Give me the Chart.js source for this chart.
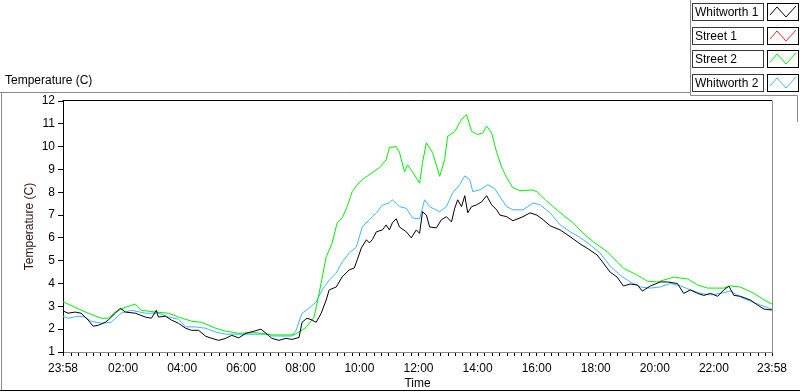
<!DOCTYPE html>
<html>
<head>
<meta charset="utf-8">
<script src="https://cdn.jsdelivr.net/npm/chart.js@4"></script>
<style>
  html, body { margin: 0; padding: 0; background: #fff; }
  #wrap { width: 800px; height: 392px; position: relative; }
</style>
</head>
<body>
<div id="wrap"><canvas id="temps"></canvas></div>
<script>
// hours since 23:58 and temperatures (C) per series
let wh1Hours = [0, 0.17, 0.41, 0.61, 0.85, 1.02, 1.19, 1.43, 1.53, 1.77, 1.94, 2.11, 2.45, 2.79, 2.99, 3.16, 3.23, 3.47, 3.67, 3.91, 4.15, 4.35, 4.59, 4.83, 5.03, 5.27, 5.51, 5.71, 5.95, 6.19, 6.46, 6.7, 6.87, 7.07, 7.31, 7.55, 7.75, 7.99, 8.09, 8.26, 8.43, 8.57, 8.74, 8.91, 9.01, 9.25, 9.45, 9.69, 9.86, 9.96, 10.1, 10.27, 10.37, 10.47, 10.61, 10.81, 10.94, 11.05, 11.15, 11.28, 11.39, 11.62, 11.79, 11.96, 12.07, 12.17, 12.3, 12.41, 12.64, 12.81, 12.98, 13.15, 13.26, 13.36, 13.49, 13.6, 13.7, 13.83, 14.0, 14.17, 14.34, 14.51, 14.68, 14.79, 15.02, 15.23, 15.57, 15.81, 16.04, 16.25, 16.49, 16.83, 17.17, 17.5, 17.74, 18.08, 18.29, 18.52, 18.76, 18.97, 19.2, 19.44, 19.61, 19.88, 20.22, 20.46, 20.8, 21.01, 21.24, 21.48, 21.69, 21.92, 22.16, 22.37, 22.54, 22.71, 22.94, 23.28, 23.52, 23.73, 24.0];
let wh1Temps = [2.8, 2.7, 2.75, 2.7, 2.4, 2.13, 2.17, 2.3, 2.4, 2.7, 2.92, 2.75, 2.7, 2.53, 2.48, 2.83, 2.53, 2.57, 2.4, 2.26, 2.04, 1.95, 1.95, 1.69, 1.6, 1.51, 1.6, 1.73, 1.62, 1.82, 1.91, 2.0, 1.82, 1.6, 1.51, 1.6, 1.55, 1.64, 2.3, 2.48, 2.4, 2.3, 2.7, 3.28, 3.72, 3.85, 4.29, 4.6, 4.68, 5.04, 5.56, 5.92, 5.78, 5.92, 6.27, 6.35, 6.57, 6.35, 6.66, 6.84, 6.48, 6.27, 6.0, 6.35, 6.2, 7.15, 7.0, 6.48, 6.44, 6.8, 6.93, 6.7, 7.3, 7.67, 7.37, 7.85, 7.1, 7.37, 7.45, 7.58, 7.85, 7.45, 7.23, 7.0, 6.93, 6.75, 6.93, 7.1, 7.0, 6.8, 6.53, 6.35, 6.05, 5.74, 5.55, 5.25, 4.9, 4.5, 4.28, 3.89, 3.98, 3.94, 3.67, 3.89, 4.07, 4.07, 4.0, 3.57, 3.72, 3.57, 3.48, 3.57, 3.44, 3.72, 3.89, 3.48, 3.44, 3.27, 3.05, 2.88, 2.84];

let st1Hours = [];
let st1Temps = [];

let st2Hours = [0, 0.85, 1.29, 1.53, 1.77, 2.11, 2.45, 2.65, 3.13, 3.57, 3.91, 4.35, 4.69, 5.17, 5.51, 5.95, 6.5, 7.07, 7.82, 7.89, 8.23, 8.5, 8.67, 8.91, 9.11, 9.28, 9.45, 9.62, 9.79, 9.96, 10.13, 10.47, 10.71, 10.94, 11.05, 11.28, 11.39, 11.56, 11.66, 11.83, 12.07, 12.17, 12.3, 12.51, 12.75, 12.92, 13.02, 13.26, 13.49, 13.66, 13.83, 14.04, 14.21, 14.34, 14.51, 14.68, 14.85, 15.02, 15.23, 15.47, 15.87, 16.04, 16.25, 16.59, 16.93, 17.27, 17.61, 17.95, 18.42, 18.76, 18.97, 19.44, 19.78, 20.12, 20.46, 20.67, 21.14, 21.48, 21.82, 22.37, 22.6, 22.94, 23.39, 23.73, 24.0];
let st2Temps = [3.2, 2.7, 2.48, 2.48, 2.75, 2.96, 3.1, 2.83, 2.75, 2.7, 2.53, 2.35, 2.3, 2.04, 1.91, 1.82, 1.85, 1.75, 1.75, 1.8, 2.08, 2.53, 3.58, 5.17, 5.78, 6.66, 6.88, 7.37, 8.03, 8.33, 8.56, 8.86, 9.08, 9.43, 9.96, 10.0, 9.74, 8.9, 9.2, 8.9, 8.4, 9.3, 10.17, 9.74, 8.7, 9.44, 10.45, 10.66, 11.2, 11.4, 10.67, 10.53, 10.6, 10.9, 10.6, 9.74, 9.1, 8.64, 8.2, 8.07, 8.1, 8.03, 7.76, 7.37, 7.0, 6.66, 6.2, 5.83, 5.4, 4.95, 4.67, 4.37, 4.1, 4.07, 4.2, 4.28, 4.2, 3.94, 3.8, 3.8, 3.9, 3.84, 3.57, 3.28, 3.1];

let wh2Hours = [0, 0.17, 0.51, 0.75, 0.95, 1.29, 1.63, 1.97, 2.31, 2.79, 3.23, 3.57, 3.91, 4.15, 4.49, 4.83, 5.17, 5.51, 5.95, 6.97, 7.07, 7.75, 7.89, 8.09, 8.33, 8.57, 8.77, 9.01, 9.25, 9.45, 9.69, 9.93, 10.13, 10.37, 10.61, 10.81, 11.05, 11.15, 11.39, 11.62, 11.83, 12.07, 12.24, 12.41, 12.75, 12.98, 13.19, 13.43, 13.6, 13.77, 13.87, 14.11, 14.38, 14.62, 14.79, 15.02, 15.23, 15.57, 15.91, 16.15, 16.49, 16.83, 17.17, 17.5, 17.84, 18.18, 18.52, 18.86, 19.2, 19.54, 19.88, 20.22, 20.56, 20.9, 21.24, 21.58, 21.92, 22.27, 22.6, 22.94, 23.28, 23.62, 24.0];
let wh2Temps = [2.57, 2.48, 2.57, 2.53, 2.35, 2.26, 2.3, 2.7, 2.83, 2.7, 2.7, 2.53, 2.44, 2.1, 2.1, 2.04, 1.87, 1.78, 1.78, 1.78, 1.7, 1.7, 1.95, 2.7, 2.92, 3.19, 3.72, 4.15, 4.46, 4.95, 5.34, 5.6, 6.48, 6.8, 7.1, 7.44, 7.53, 7.67, 7.37, 7.3, 6.88, 6.83, 7.67, 7.37, 7.15, 7.37, 7.98, 8.33, 8.72, 8.55, 8.03, 8.1, 8.33, 8.15, 7.8, 7.37, 7.23, 7.23, 7.53, 7.45, 7.1, 6.57, 6.27, 6.02, 5.7, 5.34, 4.77, 4.37, 4.07, 3.85, 3.8, 3.85, 4.0, 3.9, 3.72, 3.57, 3.5, 3.57, 3.67, 3.4, 3.22, 3.05, 2.88];

let yTicks = [1, 2, 3, 4, 5, 6, 7, 8, 9, 10, 11, 12];
let seriesNames = ["Whitworth 1", "Street 1", "Street 2", "Whitworth 2"];
let seriesColors = ["#000000", "#ff2020", "#00ee00", "#3cb4ff"];

function pairs(hs, vs) {
  return hs.map((h, i) => ({ x: h, y: vs[i] }));
}

const START_MIN = 23 * 60 + 58;
function clockLabel(h) {
  let m = Math.round(h * 60 + START_MIN) % 1440;
  let hh = String(Math.floor(m / 60)).padStart(2, "0");
  let mm = String(m % 60).padStart(2, "0");
  return hh + ":" + mm;
}

const FONT = "'Liberation Sans', Arial, sans-serif";
Chart.defaults.font.family = FONT;
Chart.defaults.font.size = 12;
Chart.defaults.color = "#000";

// frame, caption and legend boxes in the LabVIEW style
const decor = {
  id: "decor",
  afterDraw(chart) {
    const c = chart.ctx;
    const a = chart.chartArea;
    c.save();
    c.lineWidth = 1;
    // outer panel
    c.strokeStyle = "#8a8a8a";
    c.beginPath();
    c.moveTo(0, 92.5); c.lineTo(690.5, 92.5);
    c.moveTo(690.5, 0); c.lineTo(690.5, 95.5);
    c.moveTo(690.5, 95.5); c.lineTo(797.5, 95.5);
    c.moveTo(797.5, 95.5); c.lineTo(797.5, 122);
    c.moveTo(1.5, 92.5); c.lineTo(1.5, 390);
    c.stroke();
    c.strokeStyle = "#000";
    c.beginPath();
    c.moveTo(0, 390.5); c.lineTo(800, 390.5);
    c.stroke();
    // plot area top (black) and right (gray)
    c.beginPath();
    c.strokeStyle = "#000";
    c.moveTo(a.left - 0.5, Math.round(a.top) - 0.5);
    c.lineTo(Math.round(a.right), Math.round(a.top) - 0.5);
    c.stroke();
    c.beginPath();
    c.strokeStyle = "#8a8a8a";
    c.moveTo(Math.round(a.right) + 0.5, Math.round(a.top) - 0.5);
    c.lineTo(Math.round(a.right) + 0.5, a.bottom + 1);
    c.stroke();
    // caption
    c.fillStyle = "#000";
    c.font = "12px " + FONT;
    c.textBaseline = "middle";
    c.textAlign = "left";
    c.fillText("Temperature (C)", 5, 81);
    // legend
    const rowTop = [3, 27, 50, 74];
    seriesNames.forEach((name, i) => {
      const t = rowTop[i];
      c.fillStyle = "#fff";
      c.fillRect(692, t, 71, 17);
      c.strokeStyle = "#3a3a3a";
      c.strokeRect(692.5, t + 0.5, 71, 17);
      c.fillStyle = "#000";
      c.fillText(name, 695, t + 9.5);
      c.strokeStyle = "#000";
      c.strokeRect(767.5, t + 0.5, 31, 17);
      c.strokeStyle = seriesColors[i];
      c.beginPath();
      c.moveTo(770, t + 12);
      c.lineTo(777, t + 4);
      c.lineTo(786, t + 14);
      c.lineTo(796, t + 3);
      c.stroke();
    });
    c.restore();
  }
};

new Chart(document.getElementById("temps"), {
  type: "line",
  data: {
    datasets: [
      { label: seriesNames[0], data: pairs(wh1Hours, wh1Temps), borderColor: seriesColors[0] },
      { label: seriesNames[1], data: pairs(st1Hours, st1Temps), borderColor: seriesColors[1] },
      { label: seriesNames[2], data: pairs(st2Hours, st2Temps), borderColor: seriesColors[2] },
      { label: seriesNames[3], data: pairs(wh2Hours, wh2Temps), borderColor: seriesColors[3] },
    ]
  },
  options: {
    responsive: true,
    maintainAspectRatio: false,
    animation: false,
    parsing: false,
    elements: {
      line: { borderWidth: 1, tension: 0 },
      point: { radius: 0 },
    },
    layout: { padding: { top: 101, right: 28, left: 0, bottom: 0 } },
    plugins: {
      legend: { display: false },
      tooltip: { enabled: false },
    },
    scales: {
      x: {
        type: "linear",
        min: 0,
        max: 24,
        afterFit: (s) => { s.height = 40; },
        afterBuildTicks: (s) => {
          let t = [{ value: 0 }];
          for (let h = 2 / 60; h < 24; h += 0.25) {
            if (h > 0.1 && h < 23.9) t.push({ value: h });
          }
          t.push({ value: 24 });
          s.ticks = t;
        },
        ticks: {
          autoSkip: false,
          maxRotation: 0,
          padding: 5,
          font: { size: 12 },
          callback: (v) => {
            if (v === 0 || v === 24) return "23:58";
            let m = Math.round(v * 60 + START_MIN) % 1440;
            return m % 120 === 0 ? clockLabel(v) : "";
          },
        },
        grid: { drawOnChartArea: false, tickLength: 4, tickColor: "#000" },
        border: { color: "#8a8a8a" },
        title: { display: true, text: "Time", padding: { top: 0, bottom: 1 } },
      },
      y: {
        min: 1,
        max: 12,
        afterFit: (s) => { s.width = 63; },
        afterBuildTicks: (s) => { s.ticks = yTicks.map((v) => ({ value: v })); },
        ticks: { padding: 3, font: { size: 12 } },
        grid: { drawOnChartArea: false, tickLength: 5, tickColor: "#000" },
        border: { color: "#000" },
        title: { display: true, text: "Temperature (C)", color: "#331111", padding: { top: 22, bottom: 4 } },
      },
    },
  },
  plugins: [decor],
});
</script>
</body>
</html>
